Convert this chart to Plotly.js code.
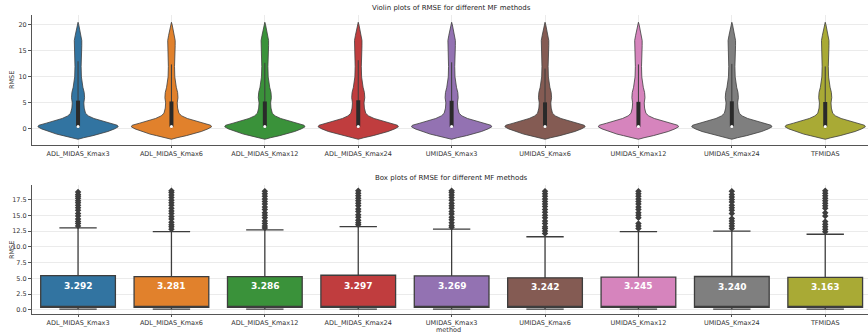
<!DOCTYPE html>
<html>
<head>
<meta charset="utf-8">
<script src="https://cdn.plot.ly/plotly-3.0.1.min.js"></script>
<style>html,body{margin:0;padding:0;background:#fff;}#chart{width:868px;height:335px;}</style>
</head>
<body>
<div id="chart"></div>
<script>
// ---------- data ----------
const methods = ['ADL_MIDAS_Kmax3','ADL_MIDAS_Kmax6','ADL_MIDAS_Kmax12','ADL_MIDAS_Kmax24',
  'UMIDAS_Kmax3','UMIDAS_Kmax6','UMIDAS_Kmax12','UMIDAS_Kmax24','TFMIDAS'];
const meanRMSE = [3.292, 3.281, 3.286, 3.297, 3.269, 3.242, 3.245, 3.240, 3.163];
const q1 = [0.40, 0.40, 0.40, 0.40, 0.40, 0.40, 0.40, 0.40, 0.40];
const medianRMSE = [0.45, 0.45, 0.45, 0.45, 0.45, 0.45, 0.45, 0.45, 0.45];
const q3 = [5.43, 5.27, 5.27, 5.50, 5.40, 5.10, 5.20, 5.30, 5.17];
const lowerWhisker = [0.12, 0.12, 0.12, 0.12, 0.12, 0.12, 0.12, 0.12, 0.12];
const upperWhisker = [13.0, 12.4, 12.7, 13.2, 12.8, 11.6, 12.4, 12.5, 12.0];
const outliers = {
  ADL_MIDAS_Kmax3:  [13.3,13.7,14.0,14.4,14.9,15.3,15.8,16.2,16.6,17.0,17.3,17.7,18.0,18.3,18.7],
  ADL_MIDAS_Kmax6:  [12.8,13.2,13.5,13.9,14.4,14.8,15.3,15.7,16.1,16.6,17.0,17.4,17.8,18.2,18.6,18.9],
  ADL_MIDAS_Kmax12: [13.0,13.3,13.7,14.1,14.6,15.0,15.4,15.9,16.3,16.8,17.2,17.6,18.0,18.4,18.8],
  ADL_MIDAS_Kmax24: [13.5,13.8,14.2,14.7,15.1,15.6,16.0,16.5,16.9,17.3,17.7,18.1,18.5,18.9],
  UMIDAS_Kmax3:     [13.1,13.4,13.8,14.3,14.7,15.2,15.6,16.1,16.5,16.9,17.4,17.8,18.2,18.6,18.9],
  UMIDAS_Kmax6:     [12.1,12.5,12.9,13.2,13.7,14.1,14.6,15.0,15.5,15.9,16.4,16.8,17.2,17.6,18.0,18.4,18.8],
  UMIDAS_Kmax12:    [12.9,13.3,13.7,14.6,15.0,15.4,15.9,16.3,16.8,17.2,17.6,18.0,18.4,18.8],
  UMIDAS_Kmax24:    [12.9,13.3,13.7,14.1,14.5,15.3,15.8,16.2,16.6,17.1,17.5,17.9,18.3,18.8],
  TFMIDAS:          [12.4,12.8,13.2,13.6,14.0,14.9,15.4,16.1,16.5,16.9,17.3,17.7,18.1,18.5,18.9]
};
// violin outline: RMSE level and half-width (in category units)
const violinLevels    = [-2.0,-1.7,-1.3,-1.0,-0.5, 0.0, 0.4, 0.7, 1.1, 1.5, 2.0, 2.5, 3.0, 4.0, 5.0, 6.0, 7.0, 8.0, 9.0, 10, 12, 14, 16, 17, 18, 19, 20, 20.5];
const violinHalfWidth = [0.0, 0.06,0.16,0.23,0.32,0.39,0.43,0.42,0.34,0.26,0.17,0.11,0.08,0.066,0.062,0.07,0.066,0.052,0.042,0.036,0.033,0.035,0.04,0.04,0.03,0.018,0.008,0.0];
const yTicksTop = [0, 5, 10, 15, 20];
const yTicksBottom = [0, 2.5, 5, 7.5, 10, 12.5, 15, 17.5];

// ---------- style ----------
const colors = ['#3274a1','#e1812c','#3a923a','#c03d3e','#9372b2','#845b53','#d684bd','#7f7f7f','#a9aa35'];
const edge = '#3d3d3d';
const FONT = 'DejaVu Sans, sans-serif';

const traces = [];
methods.forEach((m, i) => {
  const left = violinHalfWidth.map(w => i - w);
  const right = violinHalfWidth.map(w => i + w).reverse();
  traces.push({type:'scatter', mode:'lines', x: left.concat(right),
    y: violinLevels.concat(violinLevels.slice().reverse()),
    fill:'toself', fillcolor: colors[i], line:{color: edge, width:0.8},
    xaxis:'x', yaxis:'y', hoverinfo:'skip', showlegend:false});
  traces.push({type:'scatter', mode:'lines', x:[i,i], y:[lowerWhisker[i], upperWhisker[i]],
    line:{color: edge, width:1}, xaxis:'x', yaxis:'y', hoverinfo:'skip', showlegend:false});
  traces.push({type:'scatter', mode:'lines', x:[i,i], y:[q1[i], q3[i]],
    line:{color:'#2a2a2a', width:4}, xaxis:'x', yaxis:'y', hoverinfo:'skip', showlegend:false});
  traces.push({type:'scatter', mode:'markers', x:[i], y:[medianRMSE[i]],
    marker:{color:'#ffffff', size:3}, xaxis:'x', yaxis:'y', hoverinfo:'skip', showlegend:false});

  traces.push({type:'box', x:[i], q1:[q1[i]], median:[medianRMSE[i]], q3:[q3[i]],
    lowerfence:[lowerWhisker[i]], upperfence:[upperWhisker[i]],
    width:0.8, whiskerwidth:0.5, fillcolor: colors[i], line:{color: edge, width:1.3},
    boxpoints:false, xaxis:'x2', yaxis:'y2', hoverinfo:'skip', showlegend:false});
  const o = outliers[m];
  traces.push({type:'scatter', mode:'markers', x:o.map(() => i), y:o,
    marker:{symbol:'diamond', size:5, color: edge}, xaxis:'x2', yaxis:'y2',
    hoverinfo:'skip', showlegend:false});
});

const annotations = methods.map((m, i) => ({
  x: i, y: meanRMSE[i], xref:'x2', yref:'y2', text:'<b>' + meanRMSE[i].toFixed(3) + '</b>',
  showarrow:false, yanchor:'middle', yshift:3, font:{family:FONT, size:9, color:'#ffffff'}
}));
const smallFont = {family:FONT, size:6.5, color:'#333'};
annotations.push({text:'Violin plots of RMSE for different MF methods', xref:'paper', yref:'paper',
  x:452/868, y:1 - 8.5/335, showarrow:false, xanchor:'center', yanchor:'middle',
  font:{family:FONT, size:7, color:'#262626'}});
annotations.push({text:'Box plots of RMSE for different MF methods', xref:'paper', yref:'paper',
  x:452/868, y:1 - 178/335, showarrow:false, xanchor:'center', yanchor:'middle',
  font:{family:FONT, size:7, color:'#262626'}});
annotations.push({text:'RMSE', xref:'paper', yref:'paper', x:12/868, y:1 - 80/335,
  textangle:-90, showarrow:false, xanchor:'center', yanchor:'middle', font:smallFont});
annotations.push({text:'RMSE', xref:'paper', yref:'paper', x:12/868, y:1 - 250/335,
  textangle:-90, showarrow:false, xanchor:'center', yanchor:'middle', font:smallFont});
annotations.push({text:'method', xref:'paper', yref:'paper', x:448/868, y:0,
  showarrow:false, xanchor:'center', yanchor:'bottom', borderpad:0, font:smallFont});

const xBase = {
  range:[-0.493, 8.458], tickvals: methods.map((m,i)=>i), ticktext: methods,
  showgrid:true, gridcolor:'#ebebeb', gridwidth:1, zeroline:false,
  showline:true, linecolor:'#555', linewidth:1, ticks:'outside', ticklen:2, tickcolor:'#555',
  tickfont:smallFont, domain:[32/868, 1], automargin:false
};
const yBase = {
  showgrid:true, gridcolor:'#ebebeb', gridwidth:1, zeroline:false,
  showline:true, linecolor:'#555', linewidth:1, ticks:'outside', ticklen:3, tickcolor:'#555',
  tickfont:smallFont, automargin:false
};

const layout = {
  width:868, height:335, margin:{l:0, r:0, t:0, b:0},
  paper_bgcolor:'#ffffff', plot_bgcolor:'#ffffff', showlegend:false,
  font:{family:FONT, size:7, color:'#333'},
  boxmode:'overlay',
  xaxis: Object.assign({}, xBase, {anchor:'y'}),
  yaxis: Object.assign({}, yBase, {anchor:'x', domain:[(335-145)/335, (335-15)/335],
    range:[-3.1, 21.9], tickvals:yTicksTop, ticktext:yTicksTop.map(String)}),
  xaxis2: Object.assign({}, xBase, {anchor:'y2'}),
  yaxis2: Object.assign({}, yBase, {anchor:'x2', domain:[(335-314.2)/335, (335-185)/335],
    range:[-0.67, 19.8], tickvals:yTicksBottom, ticktext:yTicksBottom.map(v => v.toFixed(1))}),
  annotations: annotations
};

Plotly.newPlot('chart', traces, layout, {staticPlot:true, displayModeBar:false});
</script>
</body>
</html>
